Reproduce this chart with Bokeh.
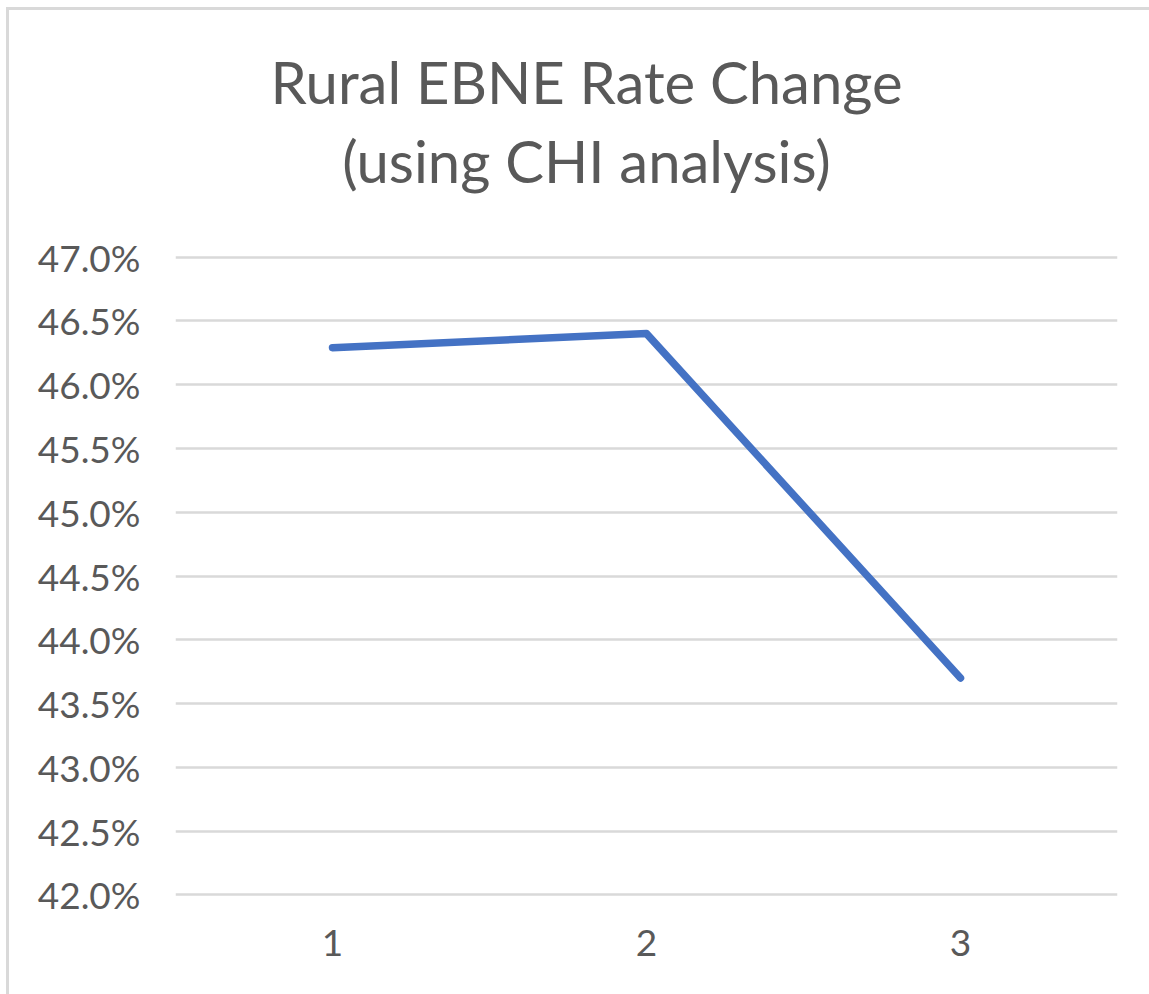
from bokeh.plotting import figure
from bokeh.models import FixedTicker, PrintfTickFormatter, Label, Range1d
from bokeh.embed import file_html
from bokeh.resources import INLINE

# Data
categories = [1, 2, 3]
rates = [46.29, 46.40, 43.70]  # percent
y_ticks = [42.0, 42.5, 43.0, 43.5, 44.0, 44.5, 45.0, 45.5, 46.0, 46.5, 47.0]
title_lines = ["Rural EBNE Rate Change", "(using CHI analysis)"]

GRAY = "#595959"
FONT = "Lato"

# The frame reaches the top of the canvas so that the title can sit inside it;
# gridlines and tick labels are limited to the tick values above.
p = figure(width=1149, height=994, output_backend="svg", toolbar_location=None,
           x_range=Range1d(0.5, 3.5), y_range=Range1d(41.98, 49.011),
           min_border_left=175, min_border_right=32, min_border_top=0,
           min_border_bottom=97, title=None)
p.styles = {"background-color": "white",
            "box-shadow": "inset 6px 7px 0 0 white, inset 9px 10px 0 0 #d9d9d9"}
p.outline_line_color = None
p.background_fill_color = None
p.border_fill_color = None

p.line(categories, rates, line_color="#4472C4", line_width=7.5,
       line_join="round", line_cap="round")

# Axes
p.yaxis.ticker = FixedTicker(ticks=y_ticks)
p.yaxis.formatter = PrintfTickFormatter(format="%.1f%%")
p.xaxis.ticker = FixedTicker(ticks=categories)
for ax in (p.xaxis, p.yaxis):
    ax.axis_line_color = None
    ax.major_tick_line_color = None
    ax.minor_tick_line_color = None
    ax.major_tick_out = 0
    ax.major_tick_in = 0
    ax.minor_tick_out = 0
    ax.major_label_text_font = FONT
    ax.major_label_text_font_size = "37px"
    ax.major_label_text_color = GRAY
p.yaxis.major_label_standoff = 35
p.xaxis.major_label_standoff = 32

p.xgrid.grid_line_color = None
p.ygrid.grid_line_color = "#d9d9d9"
p.ygrid.grid_line_width = 2.5

# Title (two lines)
for txt, yy in zip(title_lines, [48.376, 47.756]):
    p.add_layout(Label(x=1.809, y=yy, text=txt, text_align="center",
                       text_baseline="alphabetic", text_font=FONT,
                       text_font_size="58px", text_color=GRAY))

open("out.html", "w").write(file_html(p, INLINE))
